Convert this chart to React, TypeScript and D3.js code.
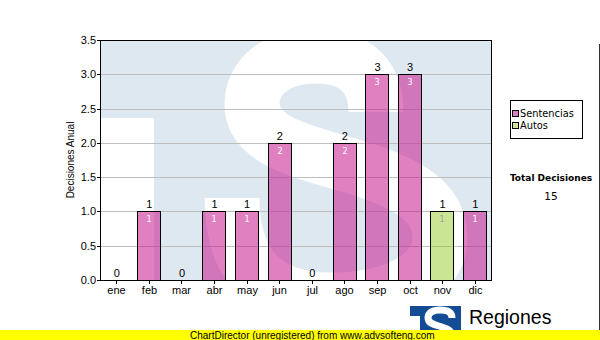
import React from "react";
import * as d3 from "d3";

const months = ["ene", "feb", "mar", "abr", "may", "jun", "jul", "ago", "sep", "oct", "nov", "dic"];
const sentencias = [0, 1, 0, 1, 1, 2, 0, 2, 3, 3, 0, 1];
const autos = [0, 0, 0, 0, 0, 0, 0, 0, 0, 0, 1, 0];
const yTicks = [0, 0.5, 1, 1.5, 2, 2.5, 3, 3.5];
const seriesNames = ["Sentencias", "Autos"];
const seriesColors = ["rgba(199,24,140,0.55)", "rgba(150,204,40,0.5)"];
const legendSwatch = ["#dd80c0", "#cce598"];
const innerLabelColors = ["#ffffff", "#a0a0a0"];

const W = 600;
const H = 340;
const L = 100, R = 491, T = 40, B = 280;

export default function App() {
  const x = d3.scaleBand<string>().domain(months).range([L, R]).paddingInner(0.285).paddingOuter(0.1425);
  const y = d3.scaleLinear().domain([0, 3.5]).range([B, T]);
  const stackData = months.map((m, i) => ({ m, s: sentencias[i], a: autos[i] }));
  const stack = d3.stack<any>().keys(["s", "a"])(stackData);
  const totals = months.map((_, i) => sentencias[i] + autos[i]);
  const total = d3.sum(totals);
  const font = "'Liberation Sans', Arial, sans-serif";
  const dv = "'DejaVu Sans', Verdana, sans-serif";
  const bw = x.bandwidth();

  return (
    <svg width={W} height={H} style={{ position: "absolute", left: 0, top: 0, background: "#fff" }}>
      <defs>
        <clipPath id="plotclip">
          <rect x={L} y={T} width={R - L} height={B - T} />
        </clipPath>
      </defs>
      <rect x={0} y={0} width={W} height={H} fill="#fff" />
      {/* watermark */}
      <g clipPath="url(#plotclip)">
        <rect x={L} y={T} width={R - L} height={B - T} fill="#dee8f1" />
        <rect x={L} y={118} width={54} height={B - 118} fill="#fff" />
        <path
          d="M 376 112 C 376 70, 348 56, 316 56 C 275 56, 252 78, 252 104 C 252 138, 295 150, 345 164 C 405 181, 440 200, 440 238 C 440 278, 390 300, 330 300 C 270 300, 232 270, 232 198"
          fill="none"
          stroke="#fff"
          strokeWidth={55}
        />
      </g>
      {/* grid */}
      {yTicks.slice(1, -1).map((t) => (
        <line key={t} x1={L} x2={R} y1={Math.round(y(t)) + 0.5} y2={Math.round(y(t)) + 0.5} stroke="#bdbdbd" />
      ))}
      {/* bars */}
      {stack.map((layer, si) =>
        layer.map((d, i) => {
          const v = d[1] - d[0];
          if (v <= 0) return null;
          const x0 = Math.round(x(months[i])!) + 0.5;
          const y0 = Math.round(y(d[1])) + 0.5;
          const y1 = Math.round(y(d[0])) + 0.5;
          return (
            <g key={si + "-" + i}>
              <rect x={x0} y={y0} width={Math.round(bw)} height={y1 - y0} fill={seriesColors[si]} stroke="#000" strokeWidth={1} />
              <text x={x0 + bw / 2} y={y0 + 10} textAnchor="middle" fontFamily={dv} fontSize={8} fill={innerLabelColors[si]}>
                {v}
              </text>
            </g>
          );
        })
      )}
      {/* total labels */}
      {totals.map((t, i) => (
        <text key={i} x={x(months[i])! + bw / 2 + 0.5} y={y(t) - 3} textAnchor="middle" fontFamily={font} fontSize={11} fill="#000">
          {t}
        </text>
      ))}
      {/* frame */}
      <rect x={L + 0.5} y={T + 0.5} width={R - L} height={B - T} fill="none" stroke="#000" />
      {/* y ticks */}
      {yTicks.map((t) => (
        <g key={t}>
          <line x1={L - 3} x2={L} y1={Math.round(y(t)) + 0.5} y2={Math.round(y(t)) + 0.5} stroke="#000" />
          <text x={L - 4} y={y(t) + 4} textAnchor="end" fontFamily={font} fontSize={11} fill="#000">
            {t.toFixed(1)}
          </text>
        </g>
      ))}
      {/* x ticks */}
      {months.map((m) => {
        const cx = Math.round(x(m)! + bw / 2) + 0.5;
        return (
          <g key={m}>
            <line x1={cx} x2={cx} y1={B} y2={B + 4} stroke="#000" />
            <text x={cx} y={B + 14} textAnchor="middle" fontFamily={font} fontSize={11} fill="#000">
              {m}
            </text>
          </g>
        );
      })}
      {/* y title */}
      <text transform={`translate(74,${(T + B) / 2}) rotate(-90)`} textAnchor="middle" fontFamily={font} fontSize={10} fill="#000">
        Decisiones Anual
      </text>
      {/* legend */}
      <rect x={510.5} y={100.5} width={72} height={38} fill="#fff" stroke="#000" />
      {seriesNames.map((n, i) => (
        <g key={n}>
          <rect x={512.5} y={110.5 + i * 12} width={6} height={6} fill={legendSwatch[i]} stroke="#000" />
          <text x={520} y={117 + i * 12} fontFamily={dv} fontSize={9.8} fill="#000">
            {n}
          </text>
        </g>
      ))}
      <text x={551} y={181} textAnchor="middle" fontFamily={dv} fontSize={9} fontWeight="bold" fill="#000">
        Total Decisiones
      </text>
      <text x={551} y={200} textAnchor="middle" fontFamily={dv} fontSize={10.5} fill="#000">
        {total}
      </text>
      {/* right edge line */}
      <line x1={599.5} x2={599.5} y1={44} y2={340} stroke="#333" />
      {/* logo */}
      <g>
        <rect x={410} y={306} width={51} height={34} fill="#134c94" />
        <rect x={410} y={316} width={10} height={24} fill="#fff" />
        <path d="M 452 318 C 452 311, 446 310, 440 310 C 432 310, 428 313, 428 318 C 428 324, 436 325, 442 327 C 449 329, 452 331, 452 335 C 452 340, 446 342, 438 342 C 432 342, 427 340, 427 334" fill="none" stroke="#fff" strokeWidth={7} />
        <text x={469} y={324} fontFamily={font} fontSize={19.5} fill="#000">
          Regiones
        </text>
        <text x={468} y={337} fontFamily={font} fontSize={9} fill="#000">
          Tribunal Constitucional de Chile
        </text>
      </g>
      {/* yellow band */}
      <rect x={0} y={330} width={W} height={10} fill="#ffff00" />
      <text x={190} y={338.5} fontFamily={font} fontSize={10} fill="#000">
        ChartDirector (unregistered) from www.advsofteng.com
      </text>
    </svg>
  );
}
